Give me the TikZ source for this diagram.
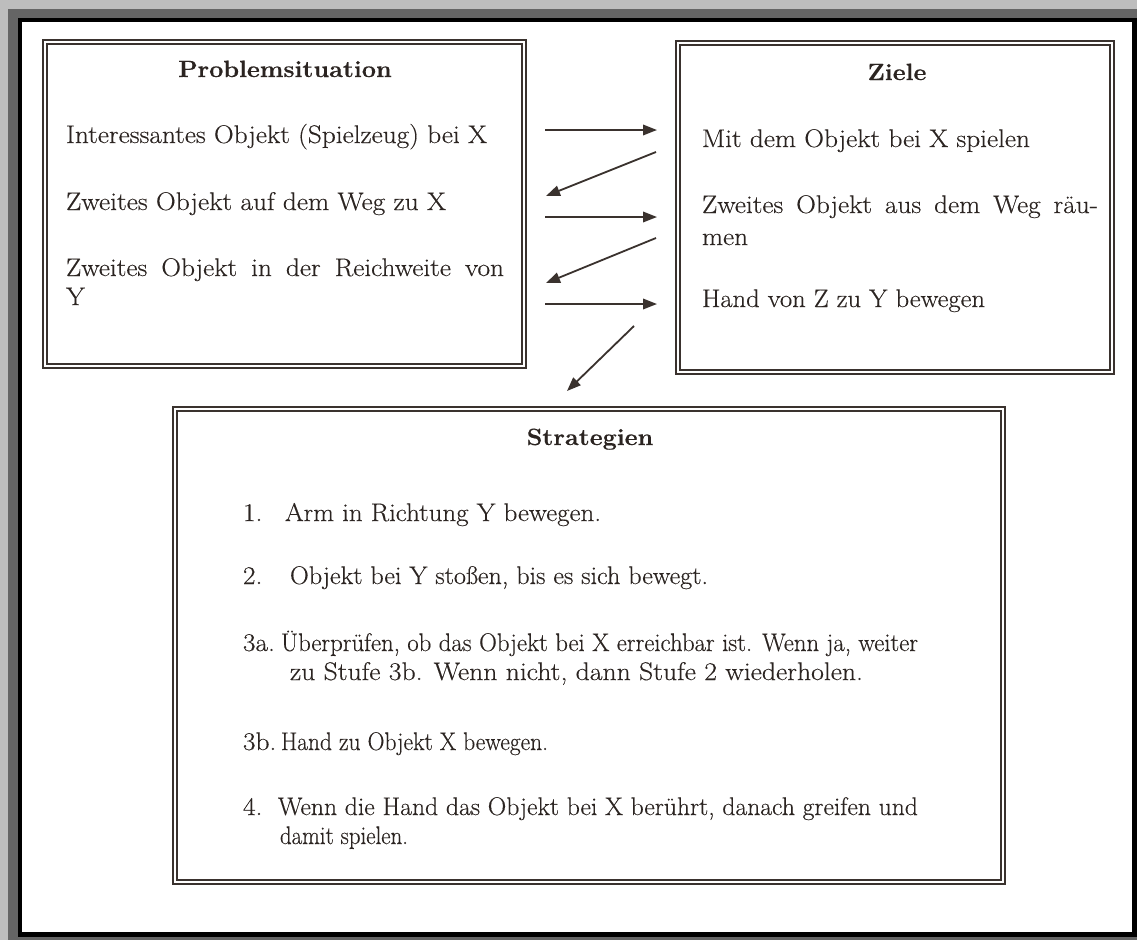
\documentclass[tikz,border=0pt]{standalone}
\usepackage{fontspec}
\usepackage{graphicx}
\setmainfont{Latin Modern Roman}[FakeStretch=1.07, FakeBold=0.35]
\usetikzlibrary{arrows.meta}
\definecolor{ink}{HTML}{2B2421}
\definecolor{rulec}{HTML}{3A322E}
\definecolor{lgray}{HTML}{BDBDBD}
\definecolor{dgray}{HTML}{656565}
\newcommand\fitw[2]{\resizebox{#1}{\height}{#2}}
\tikzset{
  dbox/.style={draw=rulec, double=white, line width=2.4pt, double distance=2pt, rectangle, inner sep=0pt, outer sep=0pt},
  txt/.style={anchor=base west, inner sep=0pt, outer sep=0pt, text=ink, font=\fontsize{25.5}{29}\selectfont},
  ttl/.style={anchor=base, inner sep=0pt, outer sep=0pt, text=ink, font=\fontsize{23.5}{27}\selectfont\bfseries},
  arr/.style={draw=rulec, line width=1.8pt, -{Triangle[length=14pt,width=10.5pt]}},
}
\begin{document}
\begin{tikzpicture}[x=1pt,y=-1pt]
\useasboundingbox (0,0) rectangle (1137,940);
% outer frame
\fill[lgray] (0,0) rectangle (1137,940);
\fill[dgray] (8,9) rectangle (1137,940);
\fill[black] (18,18) rectangle (1137,937);
\fill[white] (22,22) rectangle (1132,932);

% boxes
\node[dbox, minimum width=479pt, minimum height=324pt] (ps) at (284.5,204) {};
\node[dbox, minimum width=434pt, minimum height=329pt] (zi) at (895,207.5) {};
\node[dbox, minimum width=828pt, minimum height=473pt] (sg) at (589,645.5) {};

% titles
\node[ttl] (pst) at (285,77) {Problemsituation};
\node[ttl] (zit) at (897,80) {Ziele};
\node[ttl] (sgt) at (590,445) {Strategien};

% Problemsituation
\node[txt] (p1) at (66,143) {\fitw{421pt}{Interessantes Objekt (Spielzeug) bei X}};
\node[txt] (p2) at (66,210) {\fitw{380pt}{Zweites Objekt auf dem Weg zu X}};
\node[txt] (p3) at (66,276) {\makebox[438pt][s]{Zweites Objekt in der Reichweite von}};
\node[txt] (p3b) at (66,305) {Y};

% Ziele
\node[txt] (z1) at (702,147) {\fitw{328pt}{Mit dem Objekt bei X spielen}};
\node[txt] (z2) at (702,213) {\makebox[396pt][s]{Zweites Objekt aus dem Weg räu-}};
\node[txt] (z2b) at (702,245) {men};
\node[txt] (z3) at (702,307) {\fitw{283pt}{Hand von Z zu Y bewegen}};

% Strategien
\node[txt] (n1) at (243,521) {1.};
\node[txt] (s1) at (285,521) {\fitw{316pt}{Arm in Richtung Y bewegen.}};
\node[txt] (n2) at (243,584) {2.};
\node[txt] (s2) at (290,584) {\fitw{418pt}{Objekt bei Y stoßen, bis es sich bewegt.}};
\node[txt] (n3a) at (243,651) {3a.};
\node[txt] (s3a) at (281,651) {\fitw{637pt}{Überprüfen, ob das Objekt bei X erreichbar ist. Wenn ja, weiter}};
\node[txt] (s3a2) at (290,680) {\fitw{573pt}{zu Stufe 3b. Wenn nicht, dann Stufe 2 wiederholen.}};
\node[txt] (n3b) at (243,750) {3b.};
\node[txt] (s3b) at (281,750) {\fitw{267pt}{Hand zu Objekt X bewegen.}};
\node[txt] (n4) at (243,815) {4.};
\node[txt] (s4) at (278,815) {\fitw{640pt}{Wenn die Hand das Objekt bei X berührt, danach greifen und}};
\node[txt] (s42) at (280,844) {\fitw{128pt}{damit spielen.}};

% arrows
\coordinate (a1s) at (545,130); \coordinate (a1e) at (657,130);
\coordinate (a2s) at (656,152); \coordinate (a2e) at (546,196);
\coordinate (a3s) at (545,217); \coordinate (a3e) at (657,217);
\coordinate (a4s) at (656,238); \coordinate (a4e) at (546,283);
\coordinate (a5s) at (545,304); \coordinate (a5e) at (657,304);
\coordinate (a6s) at (634,326); \coordinate (a6e) at (567,391);
\draw[arr] (a1s) -- (a1e);
\draw[arr] (a2s) -- (a2e);
\draw[arr] (a3s) -- (a3e);
\draw[arr] (a4s) -- (a4e);
\draw[arr] (a5s) -- (a5e);
\draw[arr] (a6s) -- (a6e);
\end{tikzpicture}
\end{document}
